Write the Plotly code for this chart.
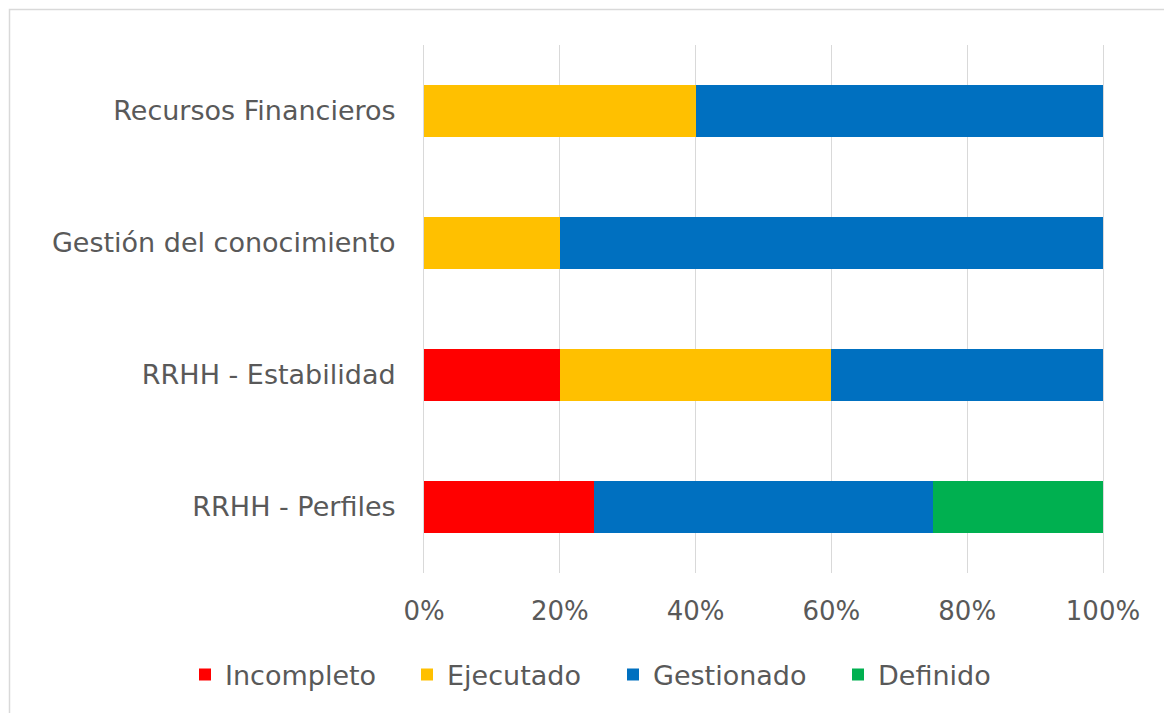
import plotly.graph_objects as go

categories = ["RRHH - Perfiles", "RRHH - Estabilidad", "Gestión del conocimiento", "Recursos Financieros"]
series_names = ["Incompleto", "Ejecutado", "Gestionado", "Definido"]
incompleto = [25, 20, 0, 0]
ejecutado = [0, 40, 20, 40]
gestionado = [50, 40, 80, 60]
definido = [25, 0, 0, 0]
tick_values = [0, 20, 40, 60, 80, 100]
tick_labels = ["0%", "20%", "40%", "60%", "80%", "100%"]

series_values = [incompleto, ejecutado, gestionado, definido]
colors = ["#FF0000", "#FFC000", "#0070C0", "#00B050"]
legend_ids = ["legend", "legend2", "legend3", "legend4"]

W, H = 1164, 713
L, R, T, B = 424, 61, 45, 140
FONT = "DejaVu Sans"
GRAY = "#595959"

fig = go.Figure()
for name, vals, col, lg in zip(series_names, series_values, colors, legend_ids):
    fig.add_trace(go.Bar(
        y=categories, x=vals, name=name, orientation="h",
        marker=dict(color=col, line=dict(width=0)),
        legend=lg, showlegend=True, hoverinfo="x+y+name",
    ))

text_starts = [225, 447, 653, 878]
legend_layout = {}
for lg, xs in zip(legend_ids, text_starts):
    legend_layout[lg] = dict(
        orientation="h", xref="container", yref="container",
        x=(xs - 40) / W, xanchor="left", y=1 - 675 / H, yanchor="middle",
        font=dict(family=FONT, size=27, color=GRAY),
        bgcolor="rgba(0,0,0,0)", borderwidth=0, visible=True,
    )

pw = W - L - R
ph = H - T - B
fig.update_layout(
    width=W, height=H,
    margin=dict(l=L, r=R, t=T, b=B),
    showlegend=True,
    barmode="stack", bargap=0.6,
    paper_bgcolor="white", plot_bgcolor="white",
    font=dict(family=FONT, color=GRAY),
    xaxis=dict(
        range=[0, 100], tickvals=tick_values, ticktext=tick_labels,
        showgrid=True, gridcolor="#D9D9D9", gridwidth=1,
        zeroline=False, showline=False, ticks="",
        tickfont=dict(family=FONT, size=26, color=GRAY),
        ticklabelstandoff=20, fixedrange=True,
    ),
    yaxis=dict(
        categoryorder="array", categoryarray=categories,
        showgrid=False, zeroline=False, ticks="",
        showline=True, mirror=True, linecolor="#D9D9D9", linewidth=1,
        tickfont=dict(family=FONT, size=27, color=GRAY),
        ticklabelstandoff=22, fixedrange=True,
    ),
    shapes=[dict(
        type="rect", xref="paper", yref="paper",
        x0=(9.5 - L) / pw, x1=(W + 20 - L) / pw,
        y0=(H - B - (H + 20)) / ph, y1=(H - B - 9.5) / ph,
        line=dict(color="#D9D9D9", width=1.5), fillcolor="rgba(0,0,0,0)", layer="below",
    )],
    **legend_layout,
)

fig.write_html("out.html")
